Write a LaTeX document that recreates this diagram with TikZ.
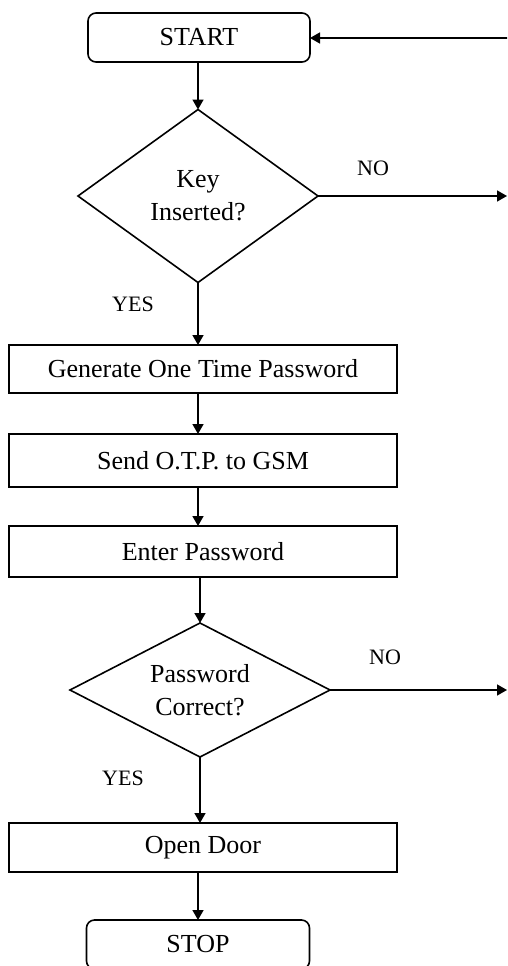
\documentclass[tikz,border=0pt]{standalone}
\usepackage{fontspec}
\setmainfont{Liberation Serif}
\usetikzlibrary{shapes.geometric,arrows.meta}
\begin{document}
\begin{tikzpicture}[x=1pt,y=-1pt,
  line width=1.6pt,
  every node/.style={font=\fontsize{26}{33}\selectfont, inner sep=0pt, outer sep=0pt},
  term/.style={draw, rounded corners=8pt, minimum width=222pt, minimum height=49pt},
  proc/.style={draw, minimum width=388pt},
  decide/.style={draw, diamond, align=center},
  lbl/.style={font=\fontsize{22}{26}\selectfont},
  arr/.style={-{Triangle[length=10pt,width=11pt]}}]
\clip (0,0) rectangle (507,966);
\fill[white] (0,0) rectangle (507,966);

\node[term] (start) at (199,37.5) {START};
\node[decide, minimum width=240pt, minimum height=173pt] (d1) at (198,196) {Key\\Inserted?};
\node[proc, minimum height=48pt] (gen) at (203,369) {Generate One Time Password};
\node[proc, minimum height=53pt] (send) at (203,460.5) {Send O.T.P. to GSM};
\node[proc, minimum height=51pt] (enter) at (203,551.5) {Enter Password};
\node[decide, shape aspect=2, minimum width=260pt, minimum height=134pt] (d2) at (200,690) {Password\\Correct?};
\node[proc, minimum height=49pt] (open) at (203,847.5) {Open Door};
\node[term, minimum width=223pt] (stop) at (198,944.5) {STOP};

\node[lbl] (no1) at (373,168) {NO};
\node[lbl] (yes1) at (133,304) {YES};
\node[lbl] (no2) at (385,657) {NO};
\node[lbl] (yes2) at (123,778) {YES};

\coordinate (back) at (508,38);
\coordinate (out1) at (507,196);
\coordinate (out2) at (507,690);

\draw[arr] (back) -- (start.east |- back);
\draw[arr] (start.south -| d1.north) -- (d1.north);
\draw[arr] (d1.south) -- (d1.south |- gen.north);
\draw[arr] (gen.south -| d1.south) -- (send.north -| d1.south);
\draw[arr] (send.south -| d1.south) -- (enter.north -| d1.south);
\draw[arr] (enter.south -| d2.north) -- (d2.north);
\draw[arr] (d2.south) -- (d2.south |- open.north);
\draw[arr] (open.south -| stop.north) -- (stop.north);
\draw[arr] (d1.east) -- (out1);
\draw[arr] (d2.east) -- (out2);
\end{tikzpicture}
\end{document}
